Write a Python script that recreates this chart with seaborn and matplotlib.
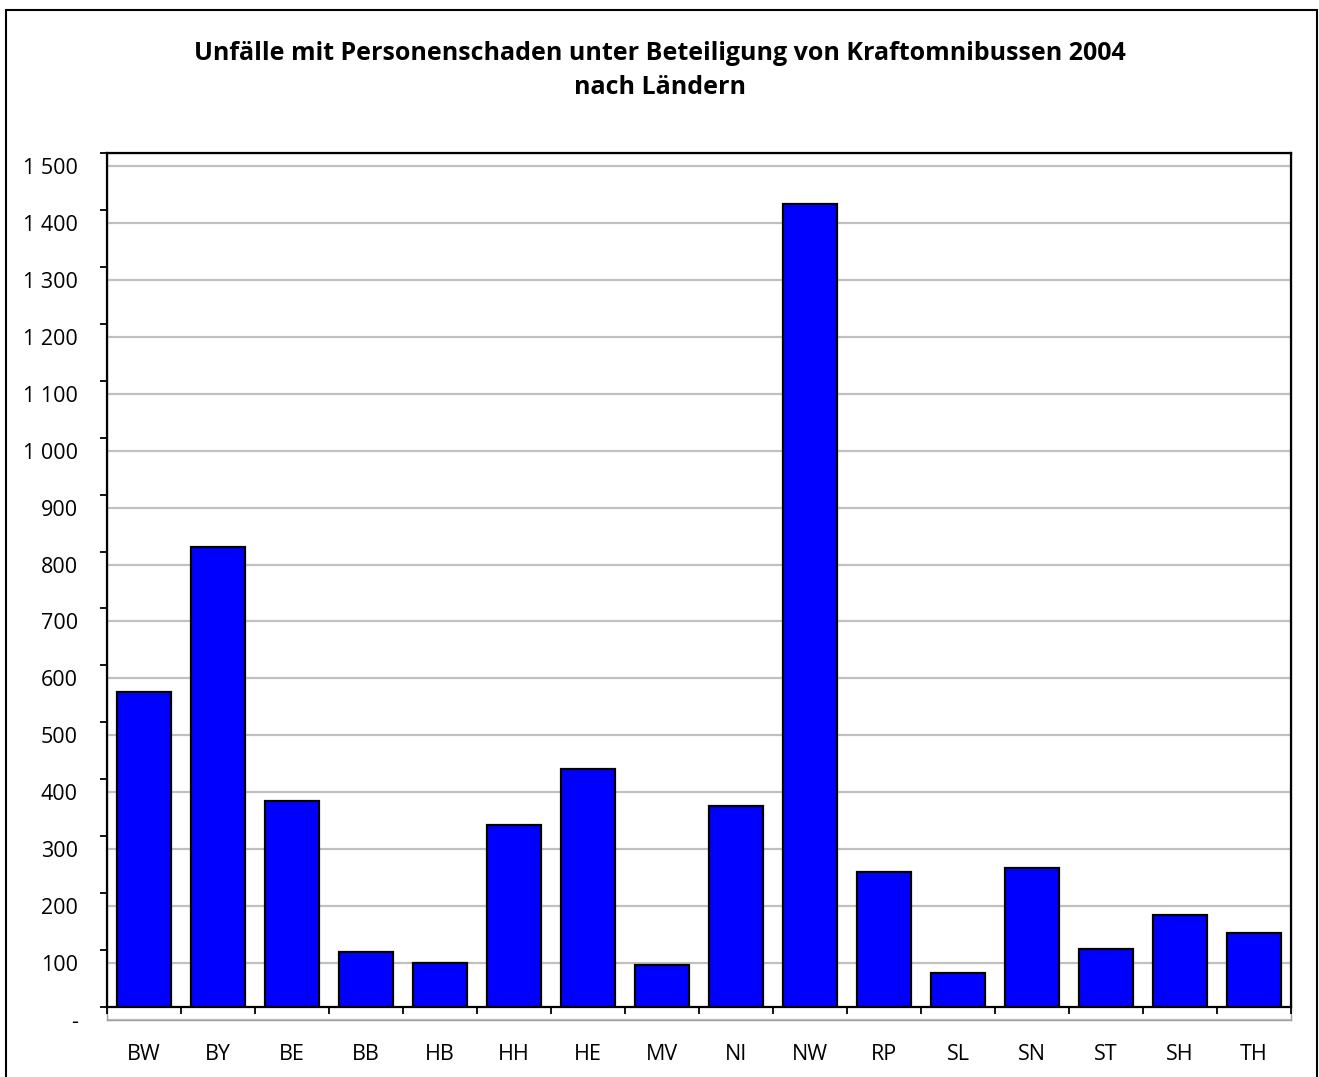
import matplotlib
matplotlib.use("Agg")
import matplotlib.pyplot as plt
import seaborn as sns
import pandas as pd
import numpy as np
from matplotlib.patches import Rectangle

# ---- data ----
laender = ["BW", "BY", "BE", "BB", "HB", "HH", "HE", "MV",
           "NI", "NW", "RP", "SL", "SN", "ST", "SH", "TH"]
unfaelle = [553, 808, 362, 97, 77, 320, 418, 74,
            353, 1410, 237, 60, 244, 102, 162, 130]
y_ticks = list(range(0, 1501, 100))
y_ticklabels = ["-"] + [f"{v:,}".replace(",", " ") for v in y_ticks[1:]]
title_line1 = "Unfälle mit Personenschaden unter Beteiligung von Kraftomnibussen 2004"
title_line2 = "nach Ländern"

df = pd.DataFrame({"Land": laender, "Unfaelle": unfaelle})

sns.set_theme(style="white")
plt.rcParams['font.family'] = ['Open Sans', 'DejaVu Sans']

W, H = 1319, 1077
fig = plt.figure(figsize=(W / 100, H / 100), dpi=100)


def frac(x0, y0, x1, y1):
    return [x0 / W, 1 - y1 / H, (x1 - x0) / W, (y1 - y0) / H]


# background plot area (gridlines + value labels)
bg = fig.add_axes(frac(107, 153, 1291, 1020))
bg.set_facecolor("white")
bg.set_xlim(0, 1)
bg.set_ylim(0, 1500 * (1020 - 153) / (1020 - 166))
bg.set_yticks(y_ticks)
bg.set_yticklabels(y_ticklabels)
bg.set_xticks([])
bg.tick_params(axis="y", length=0, pad=21, labelsize=15.5, colors="black")
bg.grid(axis="y", color="#c0c0c0", linewidth=1.6)
bg.set_axisbelow(True)
for s in bg.spines.values():
    s.set_color("#a0a0a0")
    s.set_linewidth(1.0)

# main axes (bars, axis lines, ticks)
ax = fig.add_axes(frac(107, 153, 1291, 1007))
ax.set_facecolor("none")
sns.barplot(data=df, x="Land", y="Unfaelle", ax=ax, color="#0000ff",
            saturation=1, width=0.73, edgecolor="black", linewidth=1.6)
ax.set_xlim(-0.5, len(laender) - 0.5)
ax.set_ylim(0, 1500)
ax.set_xlabel("")
ax.set_ylabel("")
ax.set_yticks(y_ticks)
ax.set_yticklabels([""] * len(y_ticks))
ax.tick_params(axis="y", which="major", left=True, direction="out",
               length=5, width=1.3, color="black")
ax.set_xticks(range(len(laender)))
ax.set_xticklabels(laender)
ax.set_xticks(np.arange(-0.5, len(laender)), minor=True)
ax.tick_params(axis="x", which="major", length=0, pad=26.5, labelsize=15.5,
               colors="black")
ax.tick_params(axis="x", which="minor", bottom=True, direction="out",
               length=5, width=1.3, color="black")
ax.grid(False)
for s in ax.spines.values():
    s.set_color("black")
    s.set_linewidth(1.6)

# title
fig.text(660 / W, 1 - 53 / H, title_line1, ha="center", va="center",
         fontsize=18, fontweight="bold", color="black")
fig.text(660 / W, 1 - 88 / H, title_line2, ha="center", va="center",
         fontsize=18, fontweight="bold", color="black")

# outer frame
fig.add_artist(Rectangle((6 / W, -0.05), (1317 - 6) / W, 1 - 10 / H + 0.05,
                         transform=fig.transFigure, fill=False,
                         edgecolor="black", linewidth=1.5))

fig.savefig("out.png", dpi=100)
